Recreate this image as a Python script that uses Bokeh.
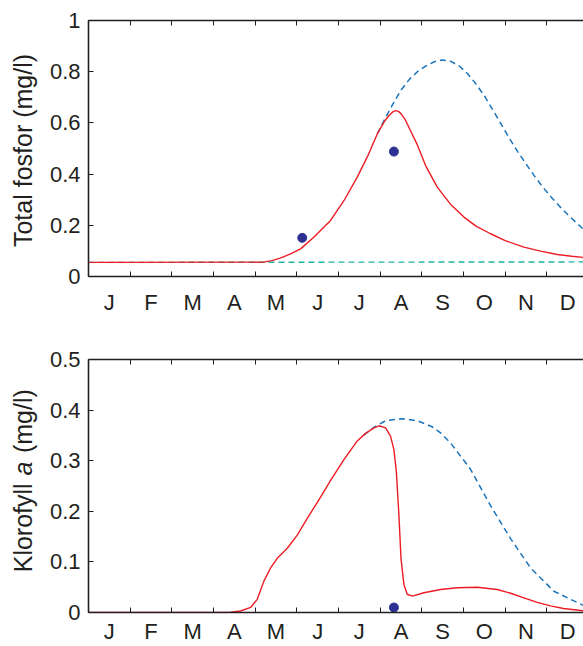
import math
from bokeh.plotting import figure
from bokeh.models import Range1d, FixedTicker, LinearAxis
from bokeh.core.properties import value
from bokeh.layouts import column, row
from bokeh.embed import file_html
from bokeh.resources import INLINE

# ---------------- data ----------------
month_labels = ["J", "F", "M", "A", "M", "J", "J", "A", "S", "O", "N", "D"]

tp_yticks = [0, 0.2, 0.4, 0.6, 0.8, 1.0]
tp_ylabels = ["0", "0.2", "0.4", "0.6", "0.8", "1"]
chl_yticks = [0, 0.1, 0.2, 0.3, 0.4, 0.5]
chl_ylabels = ["0", "0.1", "0.2", "0.3", "0.4", "0.5"]

# Total fosfor (mg/l), time in months from 1 Jan
tp_model_x = [0, 4.2, 4.4, 4.6, 4.85, 5.09, 5.4, 5.81, 6.13, 6.45, 6.7, 6.93, 7.1, 7.2,
              7.3, 7.37, 7.44, 7.5, 7.6, 7.72, 7.89, 8.1, 8.37, 8.7, 9.01, 9.3, 9.65,
              10.0, 10.45, 10.85, 11.25, 11.6, 11.9]
tp_model_y = [0.055, 0.056, 0.062, 0.072, 0.088, 0.108, 0.152, 0.219, 0.296, 0.388, 0.470,
              0.557, 0.605, 0.627, 0.643, 0.648, 0.645, 0.636, 0.613, 0.572, 0.515, 0.430,
              0.349, 0.280, 0.232, 0.197, 0.167, 0.140, 0.115, 0.099, 0.086, 0.079, 0.074]
tp_nored_x = [6.93, 7.1, 7.3, 7.5, 7.7, 7.9, 8.1, 8.3, 8.49, 8.7, 8.9, 9.1, 9.3, 9.5, 9.7,
              9.9, 10.1, 10.3, 10.5, 10.7, 10.9, 11.1, 11.3, 11.5, 11.7, 11.9]
tp_nored_y = [0.557, 0.612, 0.672, 0.728, 0.770, 0.801, 0.823, 0.839, 0.846, 0.840, 0.822,
              0.792, 0.752, 0.706, 0.652, 0.596, 0.540, 0.488, 0.440, 0.393, 0.350, 0.311,
              0.275, 0.242, 0.211, 0.182]
tp_base_x = [0, 11.9]
tp_base_y = [0.055, 0.057]
tp_obs_x = [5.13, 7.33]
tp_obs_y = [0.151, 0.488]

# Klorofyll a (mg/l)
chl_model_x = [0, 3.3, 3.41, 3.65, 3.89, 4.05, 4.21, 4.37, 4.53, 4.77, 5.01, 5.25, 5.57,
               5.81, 6.13, 6.45, 6.65, 6.85, 6.97, 7.13, 7.25, 7.33, 7.39, 7.45, 7.50,
               7.57, 7.65, 7.77, 8.05, 8.45, 8.85, 9.33, 9.81, 10.13, 10.45, 10.77, 11.09,
               11.4, 11.9]
chl_model_y = [0.0, 0.0, 0.0005, 0.003, 0.010, 0.026, 0.062, 0.088, 0.107, 0.127, 0.153,
               0.186, 0.228, 0.261, 0.302, 0.339, 0.354, 0.365, 0.369, 0.365, 0.348, 0.322,
               0.277, 0.192, 0.107, 0.055, 0.036, 0.0325, 0.039, 0.0455, 0.049, 0.050,
               0.0455, 0.038, 0.029, 0.020, 0.013, 0.008, 0.003]
chl_nored_x = [6.6, 6.85, 7.13, 7.53, 7.89, 8.25, 8.45, 8.69, 9.17, 9.65, 10.13, 10.61,
               11.17, 11.9]
chl_nored_y = [0.350, 0.366, 0.379, 0.383, 0.379, 0.367, 0.355, 0.335, 0.283, 0.211, 0.146,
               0.088, 0.042, 0.013]
chl_obs_x = [7.33]
chl_obs_y = [0.0098]

# ---------------- style ----------------
FONT = "Liberation Sans"
INK = "#231F20"
RED = "#ED1C24"
BLUE = "#1B75BC"
TEAL = "#1CB5A3"
NAVY = "#2E3192"
XEND = 11.88
LABW = 40

mid_ticks = [i + 0.5 for i in range(12)]
bound_ticks = list(range(13))


def make_fig(height, top, bottom, standoff, ymax, yticks, ylabels):
    p = figure(width=583 - LABW, height=height, x_range=Range1d(0, XEND),
               y_range=Range1d(0, ymax), output_backend="svg", toolbar_location=None,
               x_axis_type=None, y_axis_type=None, min_border_left=88 - LABW,
               min_border_right=0, min_border_top=top, min_border_bottom=bottom)
    p.outline_line_color = None
    p.background_fill_color = "white"
    p.border_fill_color = "white"

    xb = LinearAxis(ticker=FixedTicker(ticks=mid_ticks, minor_ticks=bound_ticks),
                    major_label_overrides={m: l for m, l in zip(mid_ticks, month_labels)})
    xb.major_tick_in = 0
    xb.major_tick_out = 0
    xb.minor_tick_in = 5
    xb.minor_tick_out = 0
    xb.major_label_standoff = standoff
    p.add_layout(xb, "below")

    xt = LinearAxis(ticker=FixedTicker(ticks=[], minor_ticks=bound_ticks))
    xt.major_tick_in = 0
    xt.major_tick_out = 0
    xt.minor_tick_in = 5
    xt.minor_tick_out = 0
    p.add_layout(xt, "above")

    yl = LinearAxis(ticker=FixedTicker(ticks=yticks),
                    major_label_overrides={t: l for t, l in zip(yticks, ylabels)})
    yl.major_tick_in = 5
    yl.major_tick_out = 0
    yl.major_label_standoff = 8
    p.add_layout(yl, "left")

    for ax in (xb, xt, yl):
        ax.axis_line_color = INK
        ax.axis_line_width = 1.6
        ax.major_tick_line_color = INK
        ax.minor_tick_line_color = INK
        ax.major_tick_line_width = 1
        ax.minor_tick_line_width = 1
        ax.major_label_text_font = FONT
        ax.major_label_text_font_size = "22px"
        ax.major_label_text_color = INK
    return p


def label_fig(p, parts, y0, px_per_unit, xb=22):
    """Narrow strip (frame aligned with p's frame) holding the rotated y-axis title."""
    q = figure(width=LABW, height=p.height, x_range=Range1d(0, LABW),
               y_range=Range1d(p.y_range.start, p.y_range.end), output_backend="svg",
               toolbar_location=None, x_axis_type=None, y_axis_type=None, min_border=0,
               min_border_top=p.min_border_top, min_border_bottom=p.min_border_bottom)
    q.outline_line_color = None
    q.background_fill_color = "white"
    q.border_fill_color = "white"
    y = y0
    for text, style, adv_px in parts:
        q.text(x=[xb], y=[y], text=[text], angle=math.pi / 2, text_align="left",
               text_baseline="alphabetic", text_font=value(FONT),
               text_font_size=value("25px"), text_font_style=value(style),
               text_color=INK)
        y += adv_px / px_per_unit
    return q


# ---------------- top panel ----------------
p1 = make_fig(320, 20, 44, 13, 1.0, tp_yticks, tp_ylabels)
p1.line(tp_base_x, tp_base_y, line_color=TEAL, line_width=1.4, line_dash="6 4")
p1.line(tp_nored_x, tp_nored_y, line_color=BLUE, line_width=1.5, line_dash="6 4")
p1.line(tp_model_x, tp_model_y, line_color=RED, line_width=1.4)
p1.scatter(tp_obs_x, tp_obs_y, size=9, fill_color=NAVY, line_color=NAVY)
l1 = label_fig(p1, [("Total fosfor (mg/l)", "normal", 0)], 0.115, 256.0)

# ---------------- bottom panel ----------------
p2 = make_fig(326, 39, 31, 6, 0.5, chl_yticks, chl_ylabels)
p2.line(chl_nored_x, chl_nored_y, line_color=BLUE, line_width=1.5, line_dash="6 4")
p2.line(chl_model_x, chl_model_y, line_color=RED, line_width=1.4)
p2.scatter(chl_obs_x, chl_obs_y, size=9, fill_color=NAVY, line_color=NAVY)
l2 = label_fig(p2, [("Klorofyll", "normal", 97.8), ("a", "italic", 22.8),
                    ("(mg/l)", "normal", 0)], 0.0795, 512.0)

layout = column(row(l1, p1), row(l2, p2))
open("out.html", "w").write(file_html(layout, INLINE))
